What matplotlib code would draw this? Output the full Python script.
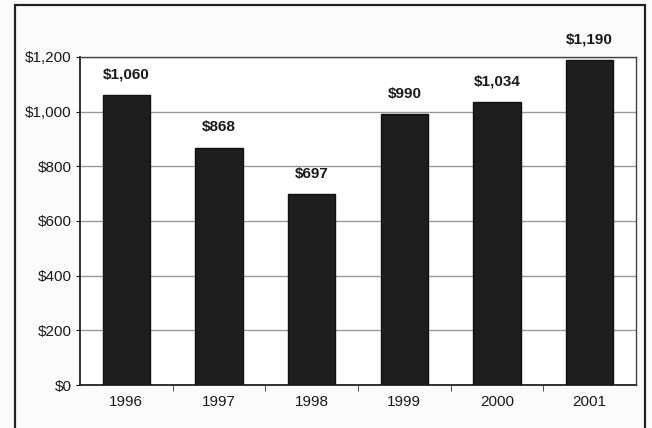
import matplotlib.pyplot as plt
from matplotlib.patches import Rectangle
from matplotlib.ticker import FuncFormatter

years = ["1996", "1997", "1998", "1999", "2000", "2001"]
values = [1060, 868, 697, 990, 1034, 1190]
y_ticks = [0, 200, 400, 600, 800, 1000, 1200]

plt.rcParams['font.family'] = ['Liberation Sans', 'DejaVu Sans']

fig = plt.figure(figsize=(6.52, 4.28), dpi=100)
fig.patch.set_facecolor("#fbfbfa")
ax = fig.add_axes([80 / 652, 1 - 385 / 428, 556 / 652, 328 / 428])
ax.set_facecolor("white")

# outer frame around the whole chart
fig.patches.append(Rectangle((15 / 652, -0.02), 630 / 652, 1 - 5 / 428 + 0.02,
                             transform=fig.transFigure, fill=False,
                             edgecolor="#222222", linewidth=1.6))

x = list(range(len(years)))
bars = ax.bar(x, values, width=0.51, color="#1e1e1e", edgecolor="#111111", zorder=3)

for xi, v in zip(x, values):
    ax.text(xi, v + 50, "${:,}".format(v), ha="center", va="bottom",
            fontsize=11, fontweight="bold", color="#1a1a1a")

ax.set_xlim(-0.5, len(years) - 0.5)
ax.set_ylim(0, 1200)
ax.set_yticks(y_ticks)
ax.yaxis.set_major_formatter(FuncFormatter(lambda v, p: "${:,.0f}".format(v)))
ax.set_xticks(x)
ax.set_xticklabels(years)
ax.set_xticks([i + 0.5 for i in x[:-1]], minor=True)
ax.tick_params(axis="x", which="major", length=0, pad=7, labelsize=11, colors="#1a1a1a")
ax.tick_params(axis="x", which="minor", length=4, direction="out", color="#333333")
ax.tick_params(axis="y", length=3, labelsize=11, colors="#1a1a1a", pad=3)

ax.grid(axis="y", color="#9a9a9a", linewidth=1.0, zorder=0)

for side in ["left", "bottom"]:
    ax.spines[side].set_color("#222222")
    ax.spines[side].set_linewidth(1.3)
for side in ["top", "right"]:
    ax.spines[side].set_color("#444444")
    ax.spines[side].set_linewidth(1.0)

fig.savefig("out.png", dpi=100, facecolor=fig.get_facecolor())
